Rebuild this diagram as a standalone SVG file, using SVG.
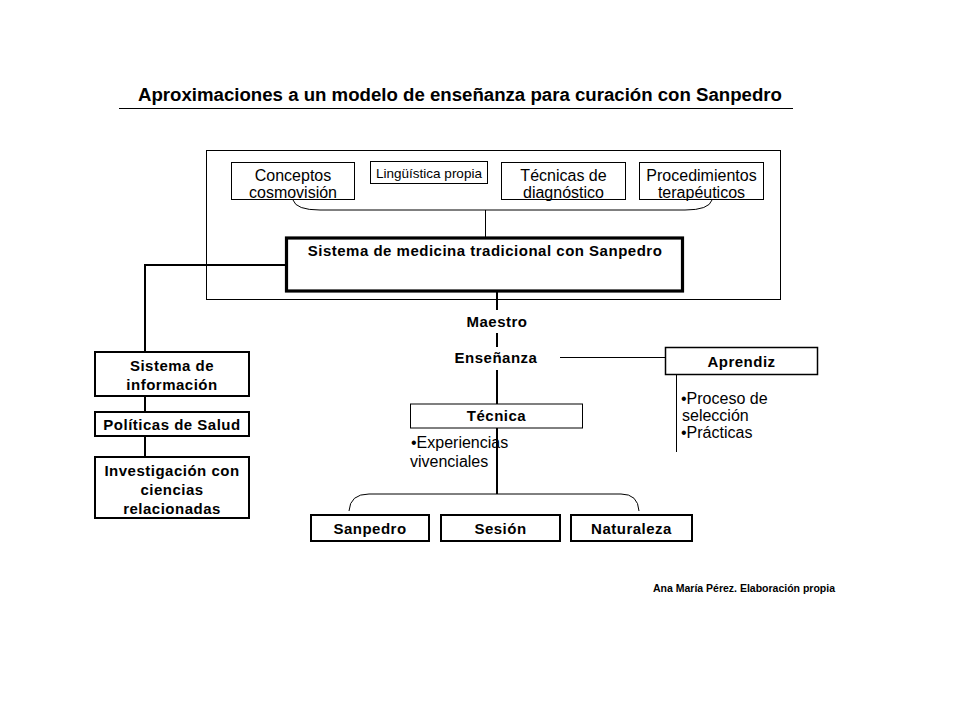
<svg xmlns="http://www.w3.org/2000/svg" width="960" height="720" viewBox="0 0 960 720">
<style>
text{font-family:"Liberation Sans",Arial,sans-serif;fill:#000}
.b{font-weight:bold;font-size:15px;letter-spacing:0.5px;text-anchor:middle}
.n{font-size:16px;text-anchor:middle}
.l{font-size:16px}
.thin{fill:#fff;stroke:#000;stroke-width:1}
.thk{fill:#fff;stroke:#000;stroke-width:2}
.c{fill:none;stroke:#000}
</style>
<rect width="960" height="720" fill="#fff"/>
<g id="title">
<text x="460" y="101" font-size="18" font-weight="bold" text-anchor="middle" textLength="644" lengthAdjust="spacingAndGlyphs">Aproximaciones a un modelo de enseñanza para curación con Sanpedro</text>
<line x1="119" y1="108.5" x2="793" y2="108.5" stroke="#000" stroke-width="1"/>
</g>
<g id="frame"><rect x="206.5" y="150.5" width="574" height="149" fill="none" stroke="#000" stroke-width="1"/></g>
<g id="connectors">
<path class="c" d="M293 200 Q296 210 320 210 L685 210 Q709 210 712 200"/>
<line class="c" x1="485.5" y1="210" x2="485.5" y2="237"/>
<path class="c" stroke-width="2" d="M286 265 L145 265 L145 352"/>
<line class="c" stroke-width="2" x1="145" y1="396" x2="145" y2="412"/>
<line class="c" stroke-width="2" x1="145" y1="436" x2="145" y2="457"/>
<line class="c" stroke-width="2" x1="497" y1="291" x2="497" y2="310"/>
<line class="c" stroke-width="2" x1="497" y1="333" x2="497" y2="347"/>
<line class="c" stroke-width="2" x1="497" y1="370" x2="497" y2="404"/>
<line class="c" stroke-width="2" x1="497" y1="428" x2="497" y2="494"/>
<line class="c" x1="560" y1="357.5" x2="665" y2="357.5"/>
<line class="c" x1="676.5" y1="375" x2="676.5" y2="452"/>
<path class="c" d="M349 511 Q350 494 369 494 L621 494 Q638 494 639 511"/>
</g>
<g id="conceptos"><rect x="231.5" y="162.5" width="123" height="37" class="thin"/>
<text class="n" x="293" y="181">Conceptos</text><text class="n" x="293" y="198">cosmovisión</text></g>
<g id="linguistica"><rect x="370.5" y="161.5" width="117" height="22" class="thin"/>
<text x="429" y="177.5" font-size="13.5" text-anchor="middle">Lingüística propia</text></g>
<g id="tecnicas"><rect x="501.5" y="162.5" width="124" height="37" class="thin"/>
<text class="n" x="563.5" y="181">Técnicas de</text><text class="n" x="563.5" y="198">diagnóstico</text></g>
<g id="procedimientos"><rect x="639.5" y="162.5" width="124" height="37" class="thin"/>
<text class="n" x="701.5" y="181">Procedimientos</text><text class="n" x="701.5" y="198">terapéuticos</text></g>
<g id="sistema"><rect x="286.5" y="238" width="396" height="53" fill="#fff" stroke="#000" stroke-width="3.2"/>
<text class="b" x="485" y="256">Sistema de medicina tradicional con Sanpedro</text></g>
<g id="maestro"><text class="b" x="497" y="327">Maestro</text></g>
<g id="ensenanza"><text class="b" x="496" y="363">Enseñanza</text></g>
<g id="aprendiz"><rect x="665.5" y="347.5" width="152" height="27" fill="#fff" stroke="#000" stroke-width="1.5"/>
<text class="b" x="741.5" y="367">Aprendiz</text>
<text class="l" x="681" y="404">•Proceso de</text><text class="l" x="682" y="421">selección</text><text class="l" x="681" y="438">•Prácticas</text></g>
<g id="tecnica"><rect x="410.5" y="404" width="172" height="24" class="thin"/>
<text class="b" x="496.5" y="421">Técnica</text>
<text class="l" x="411" y="448">•Experiencias</text><text class="l" x="410" y="467">vivenciales</text></g>
<g id="sanpedro"><rect x="311" y="515" width="118" height="26" class="thk"/><text class="b" x="370" y="534">Sanpedro</text></g>
<g id="sesion"><rect x="441" y="515" width="119" height="26" class="thk"/><text class="b" x="500.5" y="534">Sesión</text></g>
<g id="naturaleza"><rect x="571" y="515" width="121" height="26" class="thk"/><text class="b" x="631.5" y="534">Naturaleza</text></g>
<g id="info"><rect x="95" y="352" width="154" height="44" class="thk"/><text class="b" x="172" y="371">Sistema de</text><text class="b" x="172" y="390">información</text></g>
<g id="politicas"><rect x="95" y="412" width="154" height="24" class="thk"/><text class="b" x="172" y="430">Políticas de Salud</text></g>
<g id="investigacion"><rect x="95" y="457" width="154" height="61" class="thk"/><text class="b" x="172" y="476">Investigación con</text><text class="b" x="172" y="495">ciencias</text><text class="b" x="172" y="514">relacionadas</text></g>
<g id="credit"><text x="744" y="592" font-size="10.5" font-weight="bold" text-anchor="middle">Ana María Pérez. Elaboración propia</text></g>
</svg>
